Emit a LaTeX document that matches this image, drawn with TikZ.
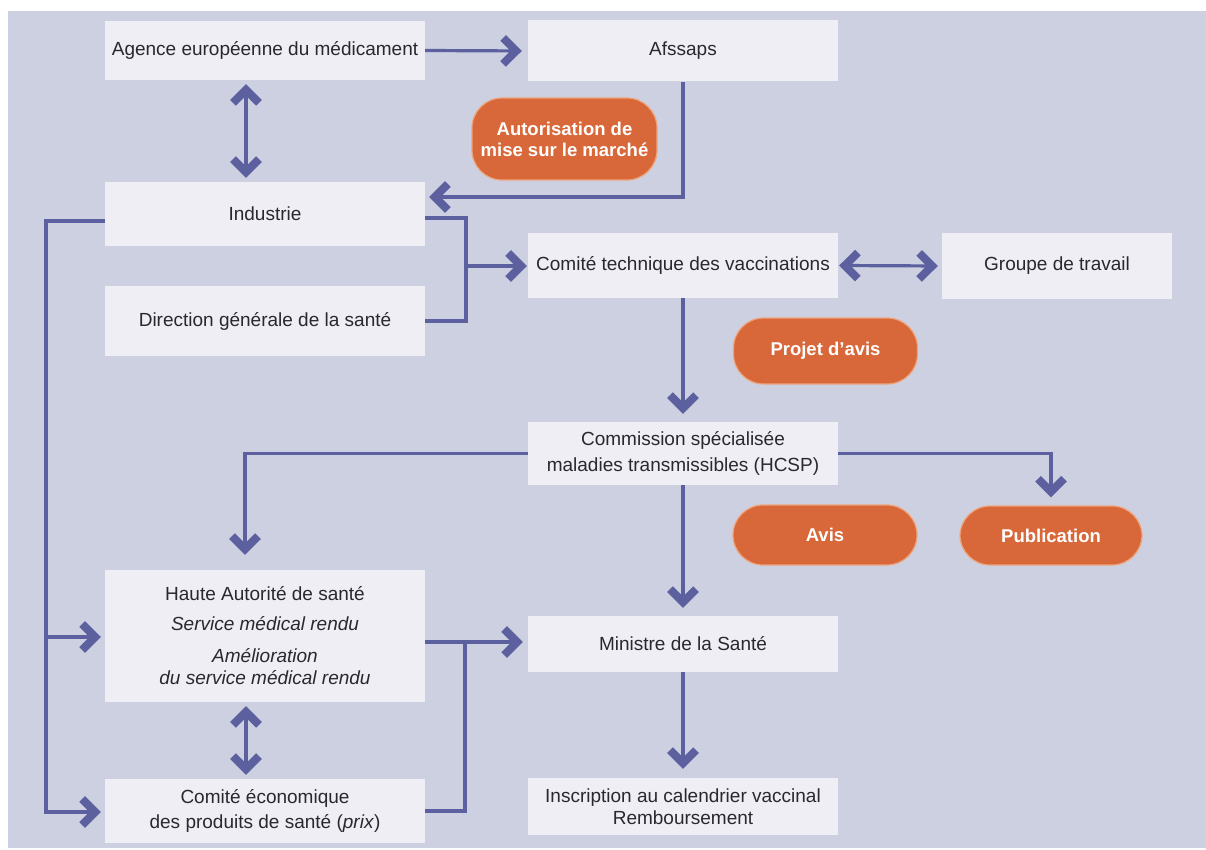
\documentclass[tikz,border=0pt]{standalone}
\usepackage{fontspec}
\setmainfont{Liberation Sans}
\usetikzlibrary{arrows.meta,calc}
\definecolor{bgpanel}{RGB}{205,208,224}
\definecolor{boxfill}{RGB}{238,238,244}
\definecolor{connblue}{RGB}{92,96,158}
\definecolor{pillfill}{RGB}{216,104,58}
\definecolor{pillrim}{RGB}{238,165,125}
\definecolor{txtdark}{RGB}{40,40,46}
\begin{document}
\begin{tikzpicture}[x=1pt,y=-1pt,
  >={Straight Barb[length=13pt,width=26pt,line width=8pt]},
  box/.style={fill=boxfill, inner sep=0pt, text=txtdark, align=center,
              font=\fontsize{19}{22}\selectfont},
  pillbox/.style={fill=pillfill, draw=pillrim, line width=1.2pt, rounded corners=30pt,
              text=white, align=center, inner sep=0pt,
              font=\bfseries\fontsize{18.5}{21}\selectfont},
  wire/.style={draw=connblue, line width=3.2pt},
  arr/.style={wire, ->, shorten >=6pt},
  darr/.style={wire, <->, shorten >=4pt, shorten <=4pt},
]
\useasboundingbox (0,0) rectangle (1206,850);
\fill[white] (0,0) rectangle (1206,850);
\fill[bgpanel] (8,11) rectangle (1206,848);

% boxes
\node[box, minimum width=320pt, minimum height=59pt] (agence) at (265,50.5) {Agence européenne du médicament};
\node[box, minimum width=310pt, minimum height=61pt] (afssaps) at (683,51) {Afssaps};
\node[box, minimum width=320pt, minimum height=64pt] (industrie) at (265,214) {Industrie};
\node[box, minimum width=320pt, minimum height=70pt] (direction) at (265,321) {Direction générale de la santé};
\node[box, minimum width=310pt, minimum height=65pt] (comite) at (683,265.5) {Comité technique des vaccinations};
\node[box, minimum width=230pt, minimum height=66pt] (groupe) at (1057,266) {Groupe de travail};
\node[box, minimum width=310pt, minimum height=63pt] (commission) at (683,453.5)
  {Commission spécialisée\\[4pt] maladies transmissibles (HCSP)};
\node[box, minimum width=320pt, minimum height=132pt] (haute) at (265,636)
  {Haute Autorité de santé\\[8pt] \itshape Service médical rendu\\[10pt] \itshape Amélioration\\ \itshape du service médical rendu};
\node[box, minimum width=310pt, minimum height=56pt] (ministre) at (683,644) {Ministre de la Santé};
\node[box, minimum width=320pt, minimum height=64pt] (comeco) at (265,811)
  {Comité économique\\[3pt] des produits de santé (\textit{prix})};
\node[box, minimum width=310pt, minimum height=57pt] (inscription) at (683,806.5)
  {Inscription au calendrier vaccinal\\ Remboursement};

% pills
\node[pillbox, minimum width=185pt, minimum height=82pt] (amm) at (564.5,139) {Autorisation de\\ mise sur le marché};
\node[pillbox, minimum width=184pt, minimum height=66pt] (projet) at (825.5,351) {Projet d'avis};
\node[pillbox, minimum width=184pt, minimum height=60pt] (avis) at (825,535) {Avis};
\node[pillbox, minimum width=182pt, minimum height=59pt] (publication) at (1051,535.5) {Publication};

% junctions
\coordinate (jA) at (466,266);
\coordinate (jL) at (46,637);
\coordinate (lc) at (46,812);
\coordinate (jR) at (465,642);

% connectors
\draw[arr] (agence.east) -- (afssaps.west);
\draw[darr] ([xshift=-19pt]agence.south) -- ([xshift=-19pt]industrie.north);
\draw[arr, shorten >=4pt] (afssaps.south) |- ([yshift=17pt]industrie.east);
\draw[wire] ([yshift=-4pt]industrie.east) -| (jA) |- (direction.east);
\draw[arr, shorten >=1pt] (jA) -- (jA -| comite.west);
\draw[darr, shorten <=1pt] (comite.east) -- (groupe.west);
\draw[arr, shorten >=8pt] (comite.south) -- (commission.north);
\draw[arr, shorten >=15pt] (commission.west) -| ([xshift=-20pt]haute.north);
\draw[arr, shorten >=8pt] (commission.east) -| (publication.north);
\draw[arr, shorten >=8pt] (commission.south) -- (ministre.north);
\draw[arr, shorten >=9pt] (ministre.south) -- (inscription.north);
\draw[arr, shorten >=4pt] ([yshift=-7pt]industrie.west) -| (lc) -- (lc -| comeco.west);
\draw[arr, shorten >=4pt] (jL) -- (jL -| haute.west);
\draw[arr, shorten >=5pt] (haute.east |- jR) -- (jR -| ministre.west);
\draw[wire] (comeco.east) -| (jR);
\draw[darr] ([xshift=-19pt]haute.south) -- ([xshift=-19pt]comeco.north);
\end{tikzpicture}
\end{document}
